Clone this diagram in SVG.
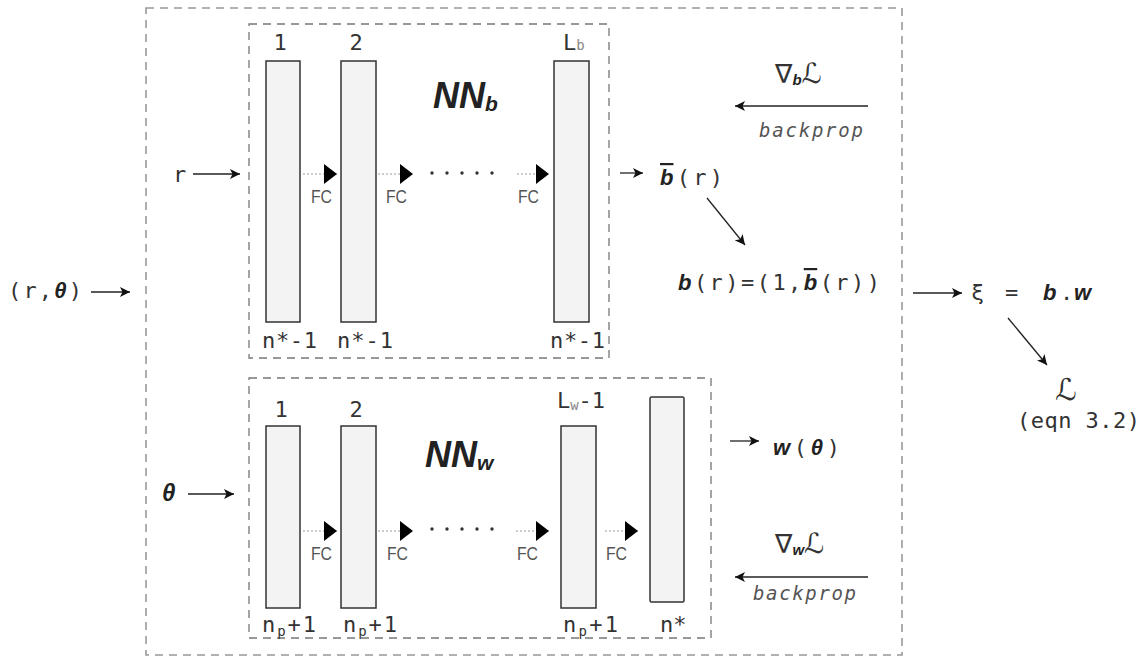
<svg xmlns="http://www.w3.org/2000/svg" width="1144" height="657" viewBox="0 0 1144 657">
<defs>
<style>
.mono{font-family:"DejaVu Sans Mono","Liberation Mono",monospace;fill:#333;font-size:22px}
.bi{font-family:"Liberation Sans",Arial,sans-serif;font-weight:bold;font-style:italic;fill:#222}
.sym{font-family:"DejaVu Sans","Noto Sans",sans-serif;fill:#333}
.fct{font-family:"Liberation Sans",Arial,sans-serif;font-size:19px;fill:#555}
.layer{fill:#f3f3f3;stroke:#333;stroke-width:1.5}
.dbox{fill:none;stroke:#777;stroke-width:1.3;stroke-dasharray:8 6}
.obox{fill:none;stroke:#999;stroke-width:1.6;stroke-dasharray:8 6}
.arr{stroke:#222;stroke-width:1.3;fill:none;marker-end:url(#ah)}
.fcl{stroke:#999;stroke-width:1;stroke-dasharray:2 2;fill:none;marker-end:url(#fc)}
.bp{font-family:"DejaVu Sans Mono",monospace;font-style:italic;font-size:19px;fill:#555}
</style>
<marker id="ah" viewBox="0 0 10 10" refX="10" refY="5" markerWidth="10" markerHeight="10" markerUnits="userSpaceOnUse" orient="auto"><path d="M0,0 L10,5 L0,10 L2.5,5 z" fill="#111"/></marker>
<marker id="fc" viewBox="0 0 13 20" refX="13" refY="10" markerWidth="13" markerHeight="20" markerUnits="userSpaceOnUse" orient="auto"><path d="M0,0 L13,10 L0,20 z" fill="#000"/></marker>
</defs>
<rect width="1144" height="657" fill="#fff"/>
<rect id="outer" class="obox" x="146" y="8" width="756" height="647"/>

<g id="nnb">
<rect class="dbox" x="249" y="24" width="360" height="334"/>
<text x="433" y="108" class="bi" font-size="36" fill="#111">NN<tspan font-size="21" dy="3">b</tspan></text>
</g>
<g id="nnw">
<rect class="dbox" x="249" y="378" width="462" height="260"/>
<text x="425" y="467" class="bi" font-size="36" fill="#111">NN<tspan font-size="21" dy="3">w</tspan></text>
</g>

<g id="b-layer1">
<rect class="layer" x="266" y="61" width="34" height="261"/>
<text class="mono" x="280" y="50" text-anchor="middle">1</text>
<text class="mono" x="262" y="348" textLength="55" lengthAdjust="spacing">n*-1</text>
</g>
<g id="b-layer2">
<rect class="layer" x="341" y="61" width="35" height="261"/>
<text class="mono" x="356" y="50" text-anchor="middle">2</text>
<text class="mono" x="337" y="348" textLength="56" lengthAdjust="spacing">n*-1</text>
</g>
<g id="b-layerL">
<rect class="layer" x="554" y="61" width="35" height="261"/>
<text class="mono" x="563" y="50">L<tspan font-size="14" fill="#888">b</tspan></text>
<text class="mono" x="550" y="348" textLength="55" lengthAdjust="spacing">n*-1</text>
</g>

<g id="w-layer1">
<rect class="layer" x="266" y="426" width="34" height="182"/>
<text class="mono" x="281" y="417" text-anchor="middle">1</text>
<text class="mono" x="262" y="632" textLength="54" lengthAdjust="spacing">n<tspan font-size="14" dy="4">p</tspan><tspan dy="-4">+1</tspan></text>
</g>
<g id="w-layer2">
<rect class="layer" x="341" y="426" width="35" height="182"/>
<text class="mono" x="356" y="417" text-anchor="middle">2</text>
<text class="mono" x="343" y="632" textLength="54" lengthAdjust="spacing">n<tspan font-size="14" dy="4">p</tspan><tspan dy="-4">+1</tspan></text>
</g>
<g id="w-layerL1">
<rect class="layer" x="561" y="426" width="35" height="182"/>
<text class="mono" x="557" y="408" textLength="48" lengthAdjust="spacing">L<tspan font-size="14" fill="#888" dy="2">w</tspan><tspan dy="-2">-1</tspan></text>
<text class="mono" x="563" y="632" textLength="55" lengthAdjust="spacing">n<tspan font-size="14" dy="4">p</tspan><tspan dy="-4">+1</tspan></text>
</g>
<g id="w-layerL">
<rect class="layer" x="650" y="397" width="34" height="205" rx="1.5"/>
<text class="mono" x="660" y="632">n*</text>
</g>

<g id="fc-labels">
<text class="fct" x="311" y="203" textLength="21" lengthAdjust="spacingAndGlyphs">FC</text>
<text class="fct" x="386" y="203" textLength="21" lengthAdjust="spacingAndGlyphs">FC</text>
<text class="fct" x="518" y="203" textLength="21" lengthAdjust="spacingAndGlyphs">FC</text>
<text class="fct" x="311" y="560" textLength="21" lengthAdjust="spacingAndGlyphs">FC</text>
<text class="fct" x="387" y="560" textLength="21" lengthAdjust="spacingAndGlyphs">FC</text>
<text class="fct" x="517" y="560" textLength="21" lengthAdjust="spacingAndGlyphs">FC</text>
<text class="fct" x="606" y="560" textLength="21" lengthAdjust="spacingAndGlyphs">FC</text>
</g>

<g id="inputs">
<text class="mono" x="8" y="298" textLength="74" lengthAdjust="spacing">(r,<tspan class="bi">θ</tspan>)</text>
<text class="mono" x="173" y="182" font-size="24">r</text>
<text class="bi" x="162" y="501" font-size="24">θ</text>
</g>

<g id="outputs">
<text class="sym" x="775" y="83" font-size="26">∇<tspan class="bi" font-size="15" dy="2">b</tspan><tspan dy="-2" font-size="28">ℒ</tspan></text>
<text class="bp" x="759" y="137" textLength="104" lengthAdjust="spacing">backprop</text>
<text class="mono" x="660" y="185" textLength="63" lengthAdjust="spacing"><tspan class="bi" style="text-decoration:overline">b</tspan>(r)</text>
<text class="mono" x="678" y="290" textLength="202" lengthAdjust="spacing"><tspan class="bi">b</tspan>(r)=(1,<tspan class="bi" style="text-decoration:overline">b</tspan>(r))</text>
<text class="mono" x="773" y="455" textLength="67" lengthAdjust="spacing"><tspan class="bi">w</tspan>(<tspan class="bi">θ</tspan>)</text>
<text class="sym" x="775" y="553" font-size="26">∇<tspan class="bi" font-size="15" dy="2">w</tspan><tspan dy="-2" font-size="28">ℒ</tspan></text>
<text class="bp" x="753" y="600" textLength="103" lengthAdjust="spacing">backprop</text>
</g>
<g id="xi">
<text class="mono" x="971" y="300" font-size="23">ξ<tspan x="1005">=</tspan><tspan class="bi" x="1043">b</tspan><tspan x="1060">.</tspan><tspan class="bi" x="1074">w</tspan></text>
</g>
<g id="loss">
<text class="sym" x="1066" y="400" font-size="30" text-anchor="middle">ℒ</text>
<text class="mono" x="1017" y="428" textLength="123" lengthAdjust="spacing">(eqn 3.2)</text>
</g>

<g id="connectors">
<line class="arr" x1="91" y1="292" x2="130" y2="292"/>
<line class="arr" x1="193" y1="174" x2="240" y2="174"/>
<line class="arr" x1="188" y1="494" x2="234" y2="494"/>
<line class="fcl" x1="303" y1="174" x2="337" y2="174"/>
<line class="fcl" x1="378" y1="174" x2="413" y2="174"/>
<line class="fcl" x1="517" y1="174" x2="549" y2="174"/>
<line class="fcl" x1="303" y1="531" x2="337" y2="531"/>
<line class="fcl" x1="378" y1="531" x2="413" y2="531"/>
<line class="fcl" x1="516" y1="531" x2="549" y2="531"/>
<line class="fcl" x1="605" y1="531" x2="638" y2="531"/>
<g fill="#333">
<circle cx="432" cy="173" r="1.7"/><circle cx="447" cy="173" r="1.7"/><circle cx="462" cy="173" r="1.7"/><circle cx="477" cy="173" r="1.7"/><circle cx="492" cy="173" r="1.7"/>
<circle cx="432" cy="529" r="1.7"/><circle cx="447" cy="529" r="1.7"/><circle cx="462" cy="529" r="1.7"/><circle cx="477" cy="529" r="1.7"/><circle cx="492" cy="529" r="1.7"/>
</g>
<line class="arr" x1="620" y1="173" x2="643" y2="173"/>
<line class="arr" x1="707" y1="198" x2="745" y2="245"/>
<line class="arr" x1="868" y1="106" x2="735" y2="106"/>
<line class="arr" x1="730" y1="441" x2="759" y2="441"/>
<line class="arr" x1="868" y1="577" x2="735" y2="577"/>
<line class="arr" x1="913" y1="293" x2="962" y2="293"/>
<line class="arr" x1="1008" y1="318" x2="1047" y2="365"/>
</g>
</svg>
